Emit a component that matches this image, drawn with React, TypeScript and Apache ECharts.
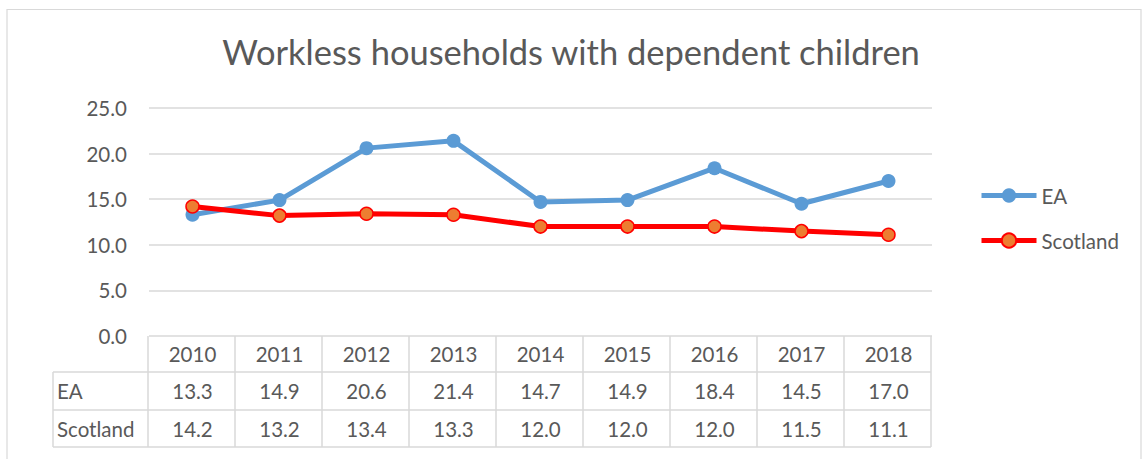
import React, { useEffect, useRef } from "react";
import * as echarts from "echarts";

const years = ["2010", "2011", "2012", "2013", "2014", "2015", "2016", "2017", "2018"];
const eaValues = [13.3, 14.9, 20.6, 21.4, 14.7, 14.9, 18.4, 14.5, 17.0];
const scotlandValues = [14.2, 13.2, 13.4, 13.3, 12.0, 12.0, 12.0, 11.5, 11.1];
const seriesNames = ["EA", "Scotland"];
const titleText = "Workless households with dependent children";

const FONT = "Lato, 'Noto Sans', sans-serif";
const TEXT = "#595959";
const GRIDC = "#D9D9D9";
const FS = 20.5;

export default function App() {
  const ref = useRef<HTMLDivElement>(null);
  useEffect(() => {
    if (!ref.current) return;
    const chart = echarts.init(ref.current, null, { renderer: "svg" });
    const W = 1142;
    const gridLeft = 149;
    const gridRight = 932;
    const gridTop = 108;
    const gridBottom = 336;
    chart.setOption({
      animation: false,
      backgroundColor: "#ffffff",
      title: {
        text: titleText,
        left: "center",
        top: 29,
        textStyle: { fontFamily: FONT, fontSize: 34.5, fontWeight: "normal", color: TEXT },
      },
      legend: {
        orient: "vertical",
        left: 974,
        top: 180,
        itemWidth: 55,
        itemHeight: 18,
        itemGap: 24,
        data: seriesNames,
        lineStyle: { width: 5 },
        textStyle: { fontFamily: FONT, fontSize: FS, color: TEXT },
      },
      grid: {
        left: gridLeft,
        right: W - gridRight,
        top: gridTop,
        bottom: 459 - gridBottom,
        containLabel: false,
      },
      xAxis: {
        type: "category",
        data: years,
        boundaryGap: true,
        axisLine: { show: false },
        axisTick: { show: false },
        axisLabel: { show: false },
      },
      yAxis: {
        type: "value",
        min: 0,
        max: 25,
        interval: 5,
        axisLine: { show: false },
        axisTick: { show: false },
        splitLine: { lineStyle: { color: GRIDC, width: 1.5 } },
        axisLabel: {
          formatter: (v: number) => v.toFixed(1),
          fontFamily: FONT,
          fontSize: FS,
          color: TEXT,
          margin: 22,
        },
      },
      series: [
        {
          name: seriesNames[0],
          type: "line",
          data: eaValues,
          symbol: "circle",
          symbolSize: 14,
          lineStyle: { color: "#5B9BD5", width: 5 },
          itemStyle: { color: "#5B9BD5", borderColor: "#5B9BD5", borderWidth: 0 },
          z: 2,
        },
        {
          name: seriesNames[1],
          type: "line",
          data: scotlandValues,
          symbol: "circle",
          symbolSize: 13,
          lineStyle: { color: "#FF0000", width: 5 },
          itemStyle: { color: "#ED7D31", borderColor: "#FF0000", borderWidth: 1.5 },
          z: 3,
        },
      ],
    });

    // Data table below the plot
    const n = years.length;
    const tLeft = 148;
    const tRight = 931;
    const colW = (tRight - tLeft) / n;
    const rowLabelLeft = 53;
    const yTop = 336;
    const yH1 = 372;
    const yH2 = 410;
    const yBot = 447;
    const ls = { stroke: GRIDC, lineWidth: 1.5 };
    const els: any[] = [];
    els.push({ type: "rect", shape: { x: 7, y: 9.5, width: 1134, height: 470 }, style: { fill: "none", stroke: GRIDC, lineWidth: 1.2 }, silent: true });
    for (let i = 0; i <= n; i++) {
      const x = tLeft + i * colW;
      els.push({ type: "line", shape: { x1: x, y1: yTop, x2: x, y2: yBot }, style: ls });
    }
    els.push({ type: "line", shape: { x1: rowLabelLeft, y1: yH1, x2: rowLabelLeft, y2: yBot }, style: ls });
    [yH1, yH2, yBot].forEach((y) => {
      els.push({ type: "line", shape: { x1: rowLabelLeft, y1: y, x2: tRight, y2: y }, style: ls });
    });
    const txt = (text: string, x: number, y: number, align: string) => ({
      type: "text",
      x,
      y,
      style: { text, fontFamily: FONT, fontSize: FS, fill: TEXT, align, verticalAlign: "middle" },
    });
    years.forEach((yr, i) => {
      const cx = chart.convertToPixel({ xAxisIndex: 0 }, yr) as number;
      els.push(txt(yr, cx, (yTop + yH1) / 2, "center"));
      els.push(txt(eaValues[i].toFixed(1), cx, (yH1 + yH2) / 2, "center"));
      els.push(txt(scotlandValues[i].toFixed(1), cx, (yH2 + yBot) / 2, "center"));
    });
    els.push(txt(seriesNames[0], 57, (yH1 + yH2) / 2, "left"));
    els.push(txt(seriesNames[1], 57, (yH2 + yBot) / 2, "left"));
    chart.setOption({ graphic: { elements: els } });

    return () => chart.dispose();
  }, []);
  return (
    <div
      ref={ref}
      style={{ position: "fixed", left: 0, top: 0, width: 1142, height: 459 }}
    />
  );
}
